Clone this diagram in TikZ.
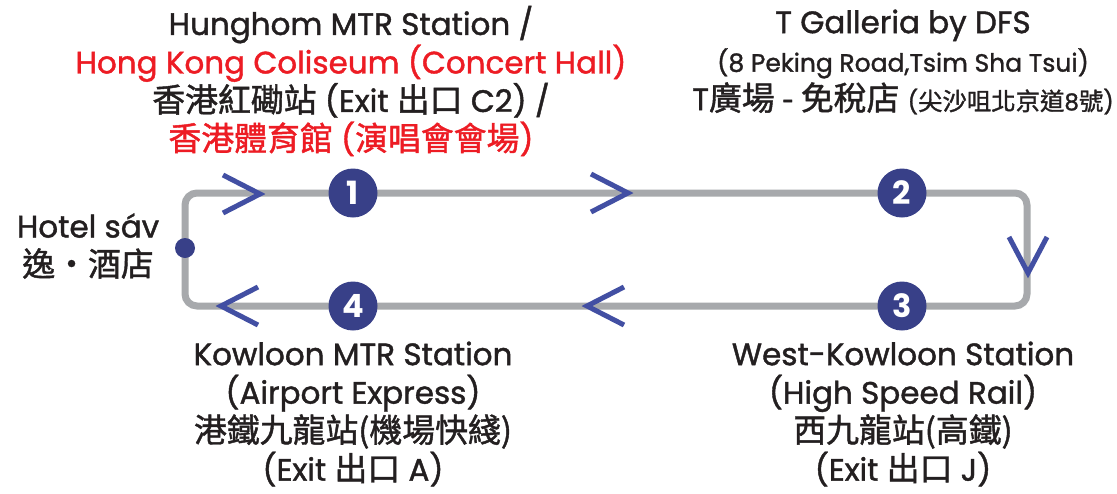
\documentclass[tikz,border=0pt]{standalone}
\usepackage{fontspec}
\setmainfont{Poppins}[UprightFeatures={FakeBold=1.3}]
\newfontfamily\cjk{Noto Sans CJK TC}[UprightFeatures={FakeBold=1.3}, Scale=1.06]
\usetikzlibrary{positioning}

\definecolor{navy}{RGB}{56,64,136}
\definecolor{chevblue}{RGB}{66,79,163}
\definecolor{trackgray}{RGB}{167,169,172}
\definecolor{ink}{RGB}{35,31,32}
\definecolor{hkred}{RGB}{237,28,36}

\tikzset{
  track/.style={draw=trackgray, line width=7pt, rounded corners=12pt},
  chev/.style={draw=chevblue, line width=5pt},
  stop/.style={circle, fill=navy, text=white, minimum size=49pt, inner sep=0pt,
    font=\fontsize{32}{32}\selectfont\bfseries},
  place/.style={align=center, text=ink, inner sep=0pt,
    font=\fontsize{31}{38.5}\selectfont},
}

\begin{document}
\begin{tikzpicture}[x=1pt, y=-1pt]
  %%%%% FRAME %%%%%
  \fill[white] (0,0) rectangle (1117,493);
  \useasboundingbox (0,0) rectangle (1117,493);

  %%%%% TRACK %%%%%
  \coordinate (hotel) at (185,248);
  \coordinate (p1) at (353,193);
  \coordinate (p2) at (902,193);
  \coordinate (p3) at (902,306);
  \coordinate (p4) at (353,306);
  \coordinate (ne) at (1027,193);
  \coordinate (se) at (1027,306);

  \draw[track] (hotel) |- (p1) -- (p2) -- (ne) -- (se) -- (p3) -- (p4) -| (hotel);

  % direction marks
  \draw[chev] (260,194) ++(-37,-19) -- ++(37,19) -- ++(-37,19);
  \draw[chev] (628,193) ++(-37,-19) -- ++(37,19) -- ++(-37,19);
  \draw[chev] (1028,273) ++(-19,-36) -- ++(19,36) -- ++(19,-36);
  \draw[chev] (587,306) ++(37,-19) -- ++(-37,19) -- ++(37,19);
  \draw[chev] (221,306) ++(37,-19) -- ++(-37,19) -- ++(37,19);

  %%%%% STOPS %%%%%
  \node[circle, fill=navy, minimum size=20pt, inner sep=0pt] (dot) at (hotel) {};
  \node[stop] (s1) at (p1) {1};
  \node[stop] (s2) at (p2) {2};
  \node[stop] (s3) at (p3) {3};
  \node[stop] (s4) at (p4) {4};

  %%%%% TEXTS %%%%%
  \node[place] (hotelname) at (88,246)
    {Hotel sáv\\{\cjk 逸・酒店}};

  \node[place] (coliseum) at (351,81)
    {Hunghom MTR Station /\\
     \textcolor{hkred}{Hong Kong Coliseum (Concert Hall)}\\
     {\cjk 香港紅磡站} (Exit {\cjk 出口} C2) /\\
     \textcolor{hkred}{{\cjk 香港體育館} ({\cjk 演唱會會場})}};

  \node[place] (galleria) at (903,62)
    {T Galleria by DFS\\
     {\fontsize{25}{38.5}\selectfont (8 Peking Road,Tsim Sha Tsui)}\\
     T{\cjk 廣場 - 免稅店} {\fontsize{23}{38.5}\selectfont ({\cjk 尖沙咀北京道}8{\cjk 號})}};

  \node[place] (kowloon) at (353,414)
    {Kowloon MTR Station\\
     (Airport Express)\\
     {\cjk 港鐵九龍站(機場快綫)}\\
     (Exit {\cjk 出口} A)};

  \node[place] (westkowloon) at (903,414)
    {West-Kowloon Station\\
     (High Speed Rail)\\
     {\cjk 西九龍站(高鐵)}\\
     (Exit {\cjk 出口} J)};
\end{tikzpicture}
\end{document}
